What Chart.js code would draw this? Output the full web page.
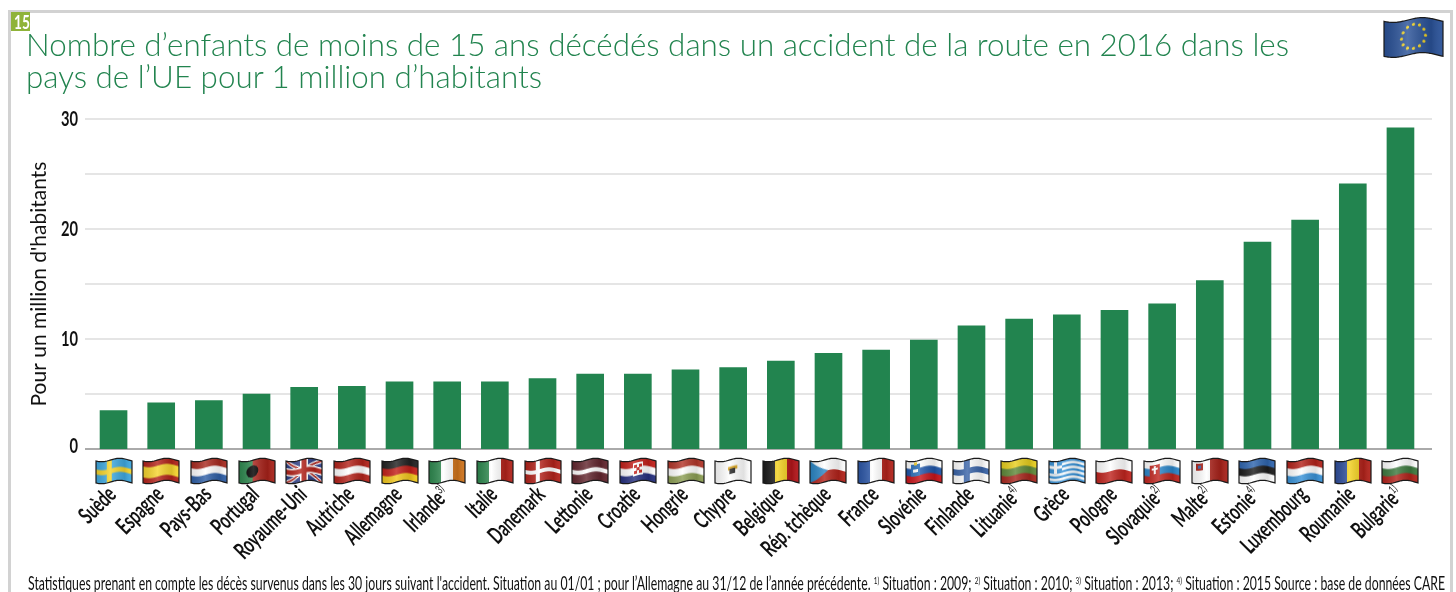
<!DOCTYPE html>
<html lang="fr">
<head>
<meta charset="utf-8">
<title>Enfants décédés dans un accident de la route</title>
<script src="https://cdn.jsdelivr.net/npm/chart.js@4"></script>
<style>
    html, body { margin: 0; padding: 0; background: #fff; overflow: hidden; }
    #page { position: relative; width: 1456px; height: 592px; overflow: hidden; }
    #frame { position: absolute; left: 8px; top: 10px; width: 1439px; height: 600px; border: 3px solid #d2d2d2; }
    #badge { position: absolute; left: 11px; top: 12px; width: 19px; height: 19px; background: #8fb339; color: #fff;
        font: 700 19px/19px Lato, sans-serif; text-align: center; }
    #badge span { display: inline-block; transform: scaleX(0.72); }
    #title { position: absolute; left: 26px; top: 28px; color: #22844f;
        font: 300 32px/32px Lato, sans-serif; white-space: nowrap; transform-origin: 0 0; }
    #note { position: absolute; left: 28px; top: 572px; white-space: nowrap; color: #111;
        font: 400 19px/22px Lato, sans-serif; transform-origin: 0 0; }
    #note sup { font-size: 10px; line-height: 0; vertical-align: 6px; }
    canvas { position: absolute; left: 0; top: 0; }
</style>
</head>
<body>
<div id="page">
    <div id="frame"></div>
    <canvas id="chart" width="1456" height="592"></canvas>
    <div id="badge"><span>15</span></div>
    <div id="title">Nombre d’enfants de moins de 15 ans décédés dans un accident de la route en 2016 dans les<br>pays de l’UE pour 1 million d’habitants</div>
    <div id="note">Statistiques prenant en compte les décès survenus dans les 30 jours suivant l'accident. Situation au 01/01 ; pour l’Allemagne au 31/12 de l’année précédente. <sup>1)</sup> Situation : 2009; <sup>2)</sup> Situation : 2010; <sup>3)</sup> Situation : 2013; <sup>4)</sup> Situation : 2015 Source : base de données CARE</div>
</div>
<script>
const countries = ['Suède', 'Espagne', 'Pays-Bas', 'Portugal', 'Royaume-Uni', 'Autriche', 'Allemagne', 'Irlande', 'Italie', 'Danemark',
    'Lettonie', 'Croatie', 'Hongrie', 'Chypre', 'Belgique', 'Rép. tchèque', 'France', 'Slovénie', 'Finlande', 'Lituanie',
    'Grèce', 'Pologne', 'Slovaquie', 'Malte', 'Estonie', 'Luxembourg', 'Roumanie', 'Bulgarie'];
const footnoteMarks = ['', '', '', '', '', '', '', '3)', '', '',
    '', '', '', '', '', '', '', '', '', '4)',
    '', '', '2)', '2)', '4)', '', '', '1)'];
const deaths = [3.5, 4.2, 4.4, 5.0, 5.6, 5.7, 6.1, 6.1, 6.1, 6.4,
    6.8, 6.8, 7.2, 7.4, 8.0, 8.7, 9.0, 9.9, 11.2, 11.8,
    12.2, 12.6, 13.2, 15.3, 18.8, 20.8, 24.1, 29.2];
const yLabels = [0, 10, 20, 30];

const GREEN = '#22844f';
const NARROW = 0.64; // no condensed face is installed, so text gets squeezed

// Fit title and footnote to the widths they have in the print layout
function fitWidth(el, width) {
    const line = document.createRange();
    line.selectNodeContents(el);
    el.style.transform = 'scaleX(' + (width / line.getBoundingClientRect().width) + ')';
}
fitWidth(document.getElementById('title'), 1263);
fitWidth(document.getElementById('note'), 1417);

// Flat flag helpers
function hStripes(g, w, h, colors) {
    colors.forEach((c, i) => { g.fillStyle = c; g.fillRect(0, i * h / colors.length, w, h / colors.length + 1); });
}
function vStripes(g, w, h, colors) {
    colors.forEach((c, i) => { g.fillStyle = c; g.fillRect(i * w / colors.length, 0, w / colors.length + 1, h); });
}
function nordicCross(g, w, h, color, size) {
    g.fillStyle = color;
    g.fillRect(w * 0.3, 0, size, h);
    g.fillRect(0, h / 2 - size / 2, w, size);
}

// One painter per flag, same order as countries
const flagPainters = [
    (g, w, h) => { hStripes(g, w, h, ['#3fa9e0']); nordicCross(g, w, h, '#f5d42a', 5); },
    (g, w, h) => { hStripes(g, w, h, ['#b3231b', '#f6d52f', '#f6d52f', '#b3231b']); },
    (g, w, h) => { hStripes(g, w, h, ['#a92a20', '#ffffff', '#2f5fa6']); },
    (g, w, h) => {
        hStripes(g, w, h, ['#a9221a']);
        g.fillStyle = '#2f8a50'; g.fillRect(0, 0, w * 0.38, h);
        g.fillStyle = '#000'; g.beginPath(); g.arc(w * 0.37, h / 2, 6, 0, 7); g.fill();
    },
    (g, w, h) => {
        hStripes(g, w, h, ['#2f3f86']);
        g.strokeStyle = '#fff'; g.lineWidth = 4;
        g.beginPath(); g.moveTo(0, 0); g.lineTo(w, h); g.moveTo(w, 0); g.lineTo(0, h); g.stroke();
        g.strokeStyle = '#b3231b'; g.lineWidth = 1.5; g.stroke();
        g.fillStyle = '#fff'; g.fillRect(w / 2 - 4, 0, 8, h); g.fillRect(0, h / 2 - 4, w, 8);
        g.fillStyle = '#b3231b'; g.fillRect(w / 2 - 2.5, 0, 5, h); g.fillRect(0, h / 2 - 2.5, w, 5);
    },
    (g, w, h) => { hStripes(g, w, h, ['#b3231b', '#ffffff', '#b3231b']); },
    (g, w, h) => { hStripes(g, w, h, ['#222222', '#c3201a', '#f2c81e']); },
    (g, w, h) => { vStripes(g, w, h, ['#2f8a50', '#ffffff', '#d0741c']); },
    (g, w, h) => { vStripes(g, w, h, ['#2f8a50', '#ffffff', '#b3231b']); },
    (g, w, h) => { hStripes(g, w, h, ['#b3231b']); nordicCross(g, w, h, '#ffffff', 4); },
    (g, w, h) => { hStripes(g, w, h, ['#63272f', '#63272f', '#ffffff', '#63272f', '#63272f']); },
    (g, w, h) => {
        hStripes(g, w, h, ['#c3201a', '#ffffff', '#26307f']);
        g.fillStyle = '#fff'; g.fillRect(w / 2 - 5, 3, 10, 13);
        g.fillStyle = '#c3201a'; g.fillRect(w / 2 - 4, 5, 3, 3); g.fillRect(w / 2 + 1, 5, 3, 3);
        g.fillRect(w / 2 - 1.5, 8, 3, 3); g.fillRect(w / 2 - 4, 11, 3, 3); g.fillRect(w / 2 + 1, 11, 3, 3);
    },
    (g, w, h) => { hStripes(g, w, h, ['#b3362a', '#ffffff', '#8d9f55']); },
    (g, w, h) => {
        hStripes(g, w, h, ['#ffffff']);
        g.fillStyle = '#d8a21c'; g.fillRect(w * 0.36, h * 0.3, w * 0.26, h * 0.16);
        g.fillStyle = '#222'; g.fillRect(w * 0.4, h * 0.4, w * 0.16, h * 0.24);
    },
    (g, w, h) => { vStripes(g, w, h, ['#1c1c1c', '#f3d11f', '#b3161a']); },
    (g, w, h) => {
        hStripes(g, w, h, ['#ffffff', '#b3231b']);
        g.fillStyle = '#2b86c5'; g.beginPath(); g.moveTo(0, 0); g.lineTo(w * 0.5, h / 2); g.lineTo(0, h); g.fill();
    },
    (g, w, h) => { vStripes(g, w, h, ['#2c57a8', '#ffffff', '#b3231b']); },
    (g, w, h) => {
        hStripes(g, w, h, ['#ffffff', '#1f55a8', '#c8141a']);
        g.fillStyle = '#2b6fb8'; g.fillRect(w * 0.14, 3, 9, 12);
        g.fillStyle = '#f2cf2a'; g.fillRect(w * 0.14 + 3, 1, 3, 3);
        g.fillStyle = '#fff'; g.fillRect(w * 0.14 + 2, 8, 5, 3);
    },
    (g, w, h) => { hStripes(g, w, h, ['#ffffff']); nordicCross(g, w, h, '#3a64a8', 6); },
    (g, w, h) => { hStripes(g, w, h, ['#e8cf1f', '#5f8a3a', '#a9281f']); },
    (g, w, h) => {
        hStripes(g, w, h, ['#3a93d8', '#ffffff', '#3a93d8', '#ffffff', '#3a93d8', '#ffffff', '#3a93d8', '#ffffff', '#3a93d8']);
        g.fillStyle = '#3a93d8'; g.fillRect(0, 0, 13, 12);
        g.fillStyle = '#fff'; g.fillRect(5, 0, 3, 12); g.fillRect(0, 4.5, 13, 3);
    },
    (g, w, h) => { hStripes(g, w, h, ['#ffffff', '#c0251f']); },
    (g, w, h) => {
        hStripes(g, w, h, ['#ffffff', '#2b86c9', '#c0251f']);
        g.fillStyle = '#c0251f'; g.fillRect(w * 0.16, 4, 10, 12);
        g.fillStyle = '#fff'; g.fillRect(w * 0.16 + 4, 5, 2, 8); g.fillRect(w * 0.16 + 2, 7, 6, 2);
    },
    (g, w, h) => {
        vStripes(g, w, h, ['#ffffff', '#a9221a']);
        g.fillStyle = '#a9221a'; g.fillRect(4, 2, 7, 7);
        g.fillStyle = '#3a64a8'; g.fillRect(6, 4, 3, 3);
    },
    (g, w, h) => { hStripes(g, w, h, ['#2f66b0', '#1c1c1c', '#ffffff']); },
    (g, w, h) => { hStripes(g, w, h, ['#b3231b', '#ffffff', '#3a93d8']); },
    (g, w, h) => { vStripes(g, w, h, ['#2f4f9c', '#f3d11f', '#b3231b']); },
    (g, w, h) => { hStripes(g, w, h, ['#ffffff', '#3d7a3f', '#b3231b']); }
];

function paintEuFlag(g, w, h) {
    hStripes(g, w, h, ['#2a5298']);
    g.fillStyle = '#f2d21f';
    for (let i = 0; i < 12; i++) {
        const a = i * Math.PI / 6;
        g.beginPath();
        g.arc(w / 2 + Math.cos(a) * 12, h / 2 + Math.sin(a) * 12, 1.6, 0, 7);
        g.fill();
    }
}

// Wavy flag: flat picture cut into columns, shifted along a wave, then shaded
function drawFlag(ctx, painter, x, y, w, h, amp) {
    const flat = document.createElement('canvas');
    flat.width = w;
    flat.height = h;
    painter(flat.getContext('2d'), w, h);
    const wave = i => amp * Math.sin(i / w * Math.PI * 2 + 0.6);
    for (let i = 0; i < w; i++) {
        ctx.drawImage(flat, i, 0, 1, h, x + i, y + wave(i), 1, h);
    }
    ctx.save();
    ctx.beginPath();
    ctx.moveTo(x, y + wave(0));
    for (let i = 1; i <= w; i++) ctx.lineTo(x + i, y + wave(i));
    for (let i = w; i >= 0; i--) ctx.lineTo(x + i, y + h + wave(i));
    ctx.closePath();
    const shade = ctx.createLinearGradient(x, 0, x + w, 0);
    shade.addColorStop(0, 'rgba(0,0,0,0.12)');
    shade.addColorStop(0.4, 'rgba(255,255,255,0.18)');
    shade.addColorStop(0.8, 'rgba(0,0,0,0.12)');
    shade.addColorStop(1, 'rgba(255,255,255,0.05)');
    ctx.fillStyle = shade;
    ctx.fill();
    ctx.strokeStyle = '#1a1a1a';
    ctx.lineWidth = 1.2;
    ctx.stroke();
    ctx.restore();
}

// Squeezed, rotated country label with its footnote mark after it
function drawCountry(ctx, label, mark, x, y) {
    ctx.save();
    ctx.translate(x, y);
    ctx.rotate(-Math.PI / 4);
    ctx.scale(NARROW, 1);
    ctx.font = '12px Lato, sans-serif';
    const markWidth = mark ? ctx.measureText(mark).width : 0;
    if (mark) {
        ctx.textAlign = 'left';
        ctx.textBaseline = 'alphabetic';
        ctx.fillText(mark, -markWidth, -2);
    }
    ctx.font = 'bold 23.5px Lato, sans-serif';
    ctx.textAlign = 'right';
    ctx.textBaseline = 'alphabetic';
    ctx.fillText(label, -markWidth, 7);
    ctx.restore();
}

// Gridlines run a little past the bars on both sides, flags and labels sit under the axis
const furniture = {
    id: 'furniture',
    beforeDatasetsDraw(chart) {
        const { ctx, scales: { y } } = chart;
        ctx.save();
        y.ticks.forEach(tick => {
            const py = Math.round(y.getPixelForValue(tick.value));
            ctx.strokeStyle = tick.value === 0 ? '#aaaaaa' : '#dcdcdc';
            ctx.lineWidth = tick.value === 0 ? 2 : 1.4;
            ctx.beginPath();
            ctx.moveTo(85, py);
            ctx.lineTo(1432, py);
            ctx.stroke();
        });
        ctx.restore();
    },
    afterDraw(chart) {
        const { ctx, scales: { x, y } } = chart;
        flagPainters.forEach((painter, i) => {
            drawFlag(ctx, painter, Math.round(x.getPixelForValue(i)) - 18, 460, 36, 22, 1.7);
        });
        drawFlag(ctx, paintEuFlag, 1384, 20, 59, 35, 2.4);

        ctx.save();
        ctx.fillStyle = '#111';
        countries.forEach((label, i) => {
            drawCountry(ctx, label, footnoteMarks[i], x.getPixelForValue(i) - 1, 491);
        });
        yLabels.forEach(value => {
            ctx.save();
            ctx.translate(78, y.getPixelForValue(value) + (value === 0 ? -3 : 0.5));
            ctx.scale(0.7, 1);
            ctx.font = 'bold 21px Lato, sans-serif';
            ctx.textAlign = 'right';
            ctx.textBaseline = 'middle';
            ctx.fillText(value, 0, 0);
            ctx.restore();
        });
        ctx.restore();
    }
};

new Chart(document.getElementById('chart'), {
    type: 'bar',
    data: {
        labels: countries,
        datasets: [{ data: deaths, backgroundColor: GREEN, barThickness: 27 }]
    },
    options: {
        responsive: false,
        animation: false,
        layout: { autoPadding: false, padding: { top: 119, right: 31.7, left: 0, bottom: 0 } },
        plugins: { legend: { display: false }, tooltip: { enabled: false } },
        scales: {
            x: {
                grid: { display: false },
                border: { display: false },
                afterFit: scale => { scale.height = 143; },
                ticks: { display: false, autoSkip: false }
            },
            y: {
                min: 0,
                max: 30,
                grid: { display: false },
                border: { display: false },
                afterFit: scale => { scale.width = 89.7; },
                title: {
                    display: true,
                    text: "Pour un million d'habitants",
                    color: '#111',
                    padding: { top: 27, bottom: 0 },
                    font: { family: 'Lato, sans-serif', size: 21 }
                },
                ticks: { display: false, stepSize: 5 }
            }
        }
    },
    plugins: [furniture]
});
</script>
</body>
</html>
